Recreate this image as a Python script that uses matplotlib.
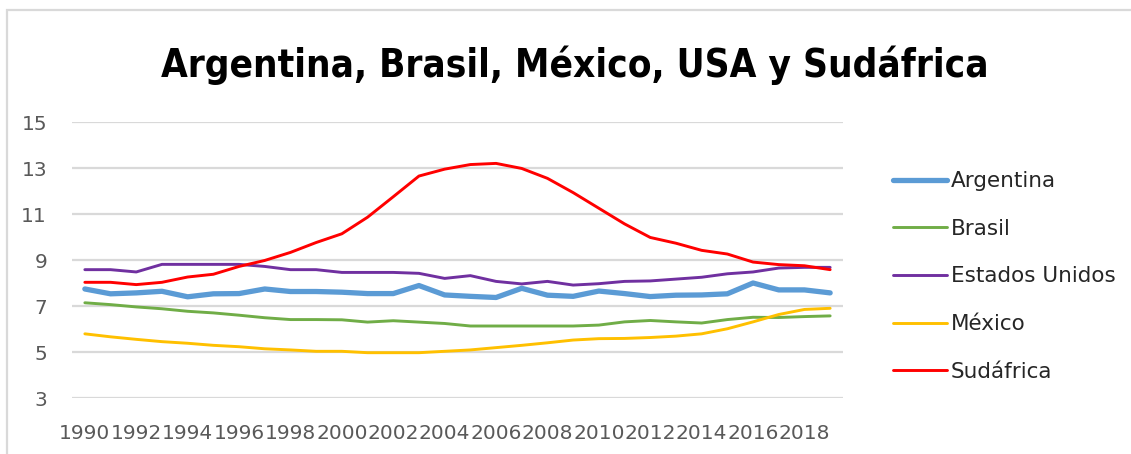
import matplotlib
matplotlib.use("Agg")
import matplotlib.pyplot as plt
from matplotlib.patches import Rectangle
import numpy as np

years = list(range(1990, 2020))

argentina = [7.74, 7.53, 7.57, 7.64, 7.40, 7.53, 7.54, 7.74, 7.63, 7.63,
             7.60, 7.54, 7.54, 7.89, 7.48, 7.42, 7.37, 7.77, 7.47, 7.42,
             7.65, 7.54, 7.41, 7.47, 7.48, 7.53, 8.00, 7.70, 7.70, 7.57]
brasil = [7.14, 7.06, 6.96, 6.88, 6.77, 6.70, 6.60, 6.49, 6.41, 6.41,
          6.40, 6.30, 6.36, 6.30, 6.24, 6.13, 6.13, 6.13, 6.13, 6.13,
          6.17, 6.31, 6.37, 6.31, 6.26, 6.41, 6.51, 6.50, 6.54, 6.57]
estados_unidos = [8.58, 8.58, 8.48, 8.81, 8.81, 8.81, 8.81, 8.72, 8.58, 8.58,
                  8.46, 8.46, 8.46, 8.42, 8.20, 8.32, 8.07, 7.96, 8.07, 7.91,
                  7.97, 8.07, 8.09, 8.17, 8.25, 8.40, 8.48, 8.65, 8.68, 8.68]
mexico = [5.79, 5.66, 5.55, 5.45, 5.38, 5.29, 5.23, 5.14, 5.09, 5.03,
          5.03, 4.97, 4.97, 4.97, 5.03, 5.09, 5.19, 5.29, 5.40, 5.52,
          5.58, 5.59, 5.63, 5.69, 5.79, 6.01, 6.31, 6.63, 6.85, 6.90]
sudafrica = [8.03, 8.03, 7.93, 8.03, 8.26, 8.38, 8.72, 8.98, 9.33, 9.76,
             10.14, 10.86, 11.75, 12.65, 12.95, 13.15, 13.20, 12.98, 12.55, 11.93,
             11.25, 10.57, 9.98, 9.73, 9.42, 9.26, 8.91, 8.80, 8.75, 8.58]

series = [
    ("Argentina", argentina, "#5B9BD5", 3.8),
    ("Brasil", brasil, "#70AD47", 2.1),
    ("Estados Unidos", estados_unidos, "#7030A0", 2.1),
    ("México", mexico, "#FFC000", 2.1),
    ("Sudáfrica", sudafrica, "#FF0000", 2.1),
]

W, H = 1131, 454
fig = plt.figure(figsize=(W / 100, H / 100), dpi=100)

# chart border
fig.patches.append(Rectangle((7 / W, -0.1), 1.2, 1.1 - 10 / H,
                             transform=fig.transFigure, fill=False,
                             edgecolor="#D9D9D9", linewidth=1.6))

ax = fig.add_axes([72 / W, (H - 398) / H, (843 - 72) / W, (398 - 122) / H])

for name, vals, color, lw in series:
    ax.plot(years, vals, color=color, linewidth=lw, label=name,
            solid_capstyle="round", solid_joinstyle="round")

ax.set_xlim(1989.5, 2019.5)
ax.set_ylim(3, 15)
ax.set_yticks(np.arange(3, 16, 2))
ax.set_xticks(years[::2])
ax.grid(axis="y", color="#D9D9D9", linewidth=1.6)
ax.set_axisbelow(True)
for s in ax.spines.values():
    s.set_visible(False)
ax.tick_params(axis="both", length=0, labelsize=14.5, labelcolor="#595959")
ax.tick_params(axis="x", pad=19)
ax.tick_params(axis="y", pad=18)

title = fig.text(575 / W, (H - 77) / H, "Argentina, Brasil, México, USA y Sudáfrica",
                 ha="center", va="baseline", fontsize=34, fontweight="bold",
                 fontstretch="condensed", color="black")
# fit the title to the reference width (~830 px)
fig.canvas.draw()
tw = title.get_window_extent().width
title.set_fontsize(34 * 830 / tw)

leg = ax.legend(loc="center left", bbox_to_anchor=(893 / W, (H - 276.5) / H),
                bbox_transform=fig.transFigure, frameon=False, fontsize=15.5,
                handlelength=2.5, handletextpad=0.2, labelspacing=1.28,
                borderpad=0, borderaxespad=0)
for t in leg.get_texts():
    t.set_color("#262626")

fig.savefig("out.png", dpi=100)
